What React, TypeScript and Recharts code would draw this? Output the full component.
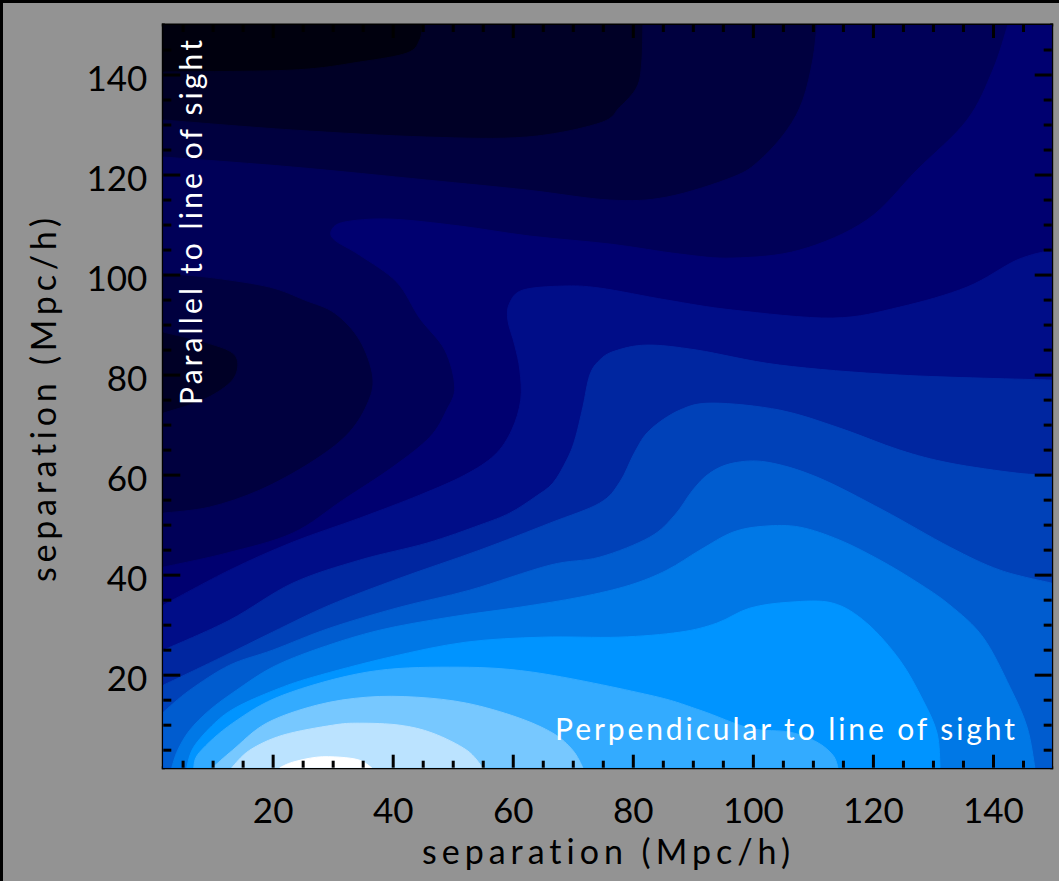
import React from 'react';
import { ScatterChart, Scatter, XAxis, YAxis } from 'recharts';

type P = [number, number];

const X_MIN = 1.7;
const X_MAX = 149.7;
const Y_MIN = 1.5;
const Y_MAX = 150;

const xTicks = [5, 10, 15, 20, 25, 30, 35, 40, 45, 50, 55, 60, 65, 70, 75, 80, 85, 90, 95, 100, 105, 110, 115, 120, 125, 130, 135, 140, 145];
const yTicks = [5, 10, 15, 20, 25, 30, 35, 40, 45, 50, 55, 60, 65, 70, 75, 80, 85, 90, 95, 100, 105, 110, 115, 120, 125, 130, 135, 140, 145];
const xLabels = [20, 40, 60, 80, 100, 120, 140];
const yLabels = [20, 40, 60, 80, 100, 120, 140];

const levelColors = [
  '#00000e', '#000026', '#00003f', '#000058', '#000070', '#000d88', '#0026a0',
  '#0041b8', '#005ccf', '#0078e6', '#0094ff', '#33abff', '#77c8ff', '#bbe3ff', '#ffffff',
];

// contour boundaries (x, y) in Mpc/h
const contour1: P[] = [[1.7, 140.6], [23.3, 141], [34.4, 142.6], [42.3, 144.4], [44.4, 147], [44.9, 150]];
const contour2Top: P[] = [[1.7, 131], [23.3, 129], [45.6, 127.6], [62.25, 127.6], [74.4, 130.4], [77.75, 133.6], [80.6, 137.6], [81.4, 142.4], [81.6, 150]];
const contour2Core: P[] = [[1.7, 88.6], [9.1, 86.4], [13.25, 84.4], [14.1, 81.6], [12.75, 78.4], [8.25, 75], [1.7, 72.4]];
const contour3Top: P[] = [[1.7, 123.6], [23.25, 121.6], [45.6, 119], [62.25, 117], [76.1, 115], [85.6, 115.6], [96.6, 119.6], [101.1, 123], [105.6, 129], [108.25, 135], [109.9, 143], [110.6, 150]];
const contour3Lobe: P[] = [[1.7, 100.4], [10.25, 99.4], [19.4, 97.6], [25.25, 95], [30.25, 92.4], [34.4, 87], [36.6, 79.6], [35.6, 74], [32.25, 68], [26.1, 62.4], [17.75, 57], [9.4, 53.6], [1.7, 52.4]];
const contour4: P[] = [[1.7, 41.6], [12.25, 44.4], [23.25, 48.4], [31.6, 55], [39.9, 61.6], [46.1, 67.6], [48.9, 73], [50.25, 77.6], [48.6, 85], [44.4, 91.4], [40.6, 98.6], [34.4, 104], [30.25, 107], [29.75, 109], [31.9, 110.6], [39.4, 111.2], [51.1, 109.8], [62.75, 107.8], [76.1, 106.2], [87.75, 104.2], [96.6, 103.4], [107.75, 105], [118.9, 111], [127.25, 121], [135.6, 131], [139.9, 141], [142.4, 150]];
const contour5: P[] = [[1.7, 34], [12.75, 41], [23.25, 46.6], [34.4, 51.4], [44.4, 56], [51.9, 60], [56.9, 64], [59.75, 69], [61.25, 75], [61.1, 81], [60.25, 86], [59.1, 91], [59.4, 94.4], [61.6, 97], [68.25, 97.8], [74.4, 97.4], [85.6, 95], [96.6, 93], [113.25, 91.4], [124.4, 93.6], [135.6, 97.6], [143.9, 103], [149.7, 105]];
const contour6: P[] = [[1.7, 25], [12.75, 31], [23.25, 38.4], [34.4, 43], [45.6, 46.4], [54.4, 50], [59.4, 52.4], [63.6, 55.6], [66.6, 58.4], [68.9, 63], [70.25, 67], [71.6, 73.6], [72.75, 80], [74.4, 83], [76.9, 84.8], [82.25, 86], [90.6, 85], [104.4, 82], [124.4, 80], [149.7, 79]];
const contour7: P[] = [[1.7, 18], [11.1, 23.4], [19.9, 28.6], [29.4, 34], [41.1, 39.4], [54.4, 45], [66.1, 50.4], [74.4, 54.4], [77.75, 58.6], [80.25, 64.6], [82.75, 69], [87.75, 73], [93.25, 74.4], [104.4, 73], [114.4, 69.4], [124.4, 65], [132.75, 62.4], [143.9, 60.4], [149.7, 60]];
const contour8: P[] = [[1.7, 12.6], [6.1, 17], [12.75, 22], [19.9, 25], [29.4, 29.4], [41.1, 33.6], [52.75, 37], [66.1, 42], [74.4, 43.6], [82.75, 47.6], [86.9, 52], [89.9, 57], [92.75, 60.4], [96.6, 62.4], [102.25, 62.6], [110.6, 59.6], [121.6, 53], [132.75, 45.6], [141.1, 41], [149.7, 38.4]];
const contour9: P[] = [[3.1, 1.5], [4.1, 5], [6.1, 9], [9.4, 13], [13.9, 17], [19.9, 21.6], [27.75, 25.4], [37.75, 29], [49.4, 31.6], [61.1, 33.6], [71.1, 35.6], [79.4, 38], [85.6, 41], [91.1, 45], [96.6, 48.6], [101.9, 49.8], [107.75, 49.6], [114.4, 47], [121.1, 43], [127.25, 38.6], [132.75, 34], [138.25, 27.6], [142.75, 17.6], [145.6, 9.6], [146.9, 1.5]];
const contour10: P[] = [[5.6, 1.5], [6.75, 5.6], [10.25, 10.4], [13.9, 13.6], [20.25, 17], [26.6, 19.6], [39.4, 23.6], [52.1, 26.6], [64.9, 27.6], [77.6, 27.6], [87.75, 28.6], [93.9, 30.4], [99.4, 33.4], [106.1, 34.6], [113.25, 34.4], [118.9, 30.4], [124.4, 23], [128.25, 15], [130.6, 8.4], [131.1, 1.5]];
const contour11: P[] = [[6.75, 1.5], [7.75, 4.6], [13.25, 10.4], [21.6, 16], [35.6, 20.6], [49.4, 21.6], [63.25, 20.6], [82.75, 16], [91.1, 13], [99.4, 9.4], [106.1, 8.6], [110.6, 6.6], [113.25, 4], [114.1, 1.5]];
const contour12: P[] = [[9.9, 1.5], [13.25, 5], [18.9, 10.4], [27.25, 14], [35.6, 15.6], [43.9, 15.6], [52.25, 14.4], [60.6, 11.6], [66.6, 8.4], [69.9, 5], [71.6, 1.5]];
const contour13: P[] = [[13.1, 1.5], [16.1, 5], [21.6, 8], [29.9, 10], [34.4, 10.4], [41.1, 10], [46.6, 8.4], [52.25, 5], [54.9, 1.5]];
const contour14: P[] = [[21.1, 1.5], [23.25, 2.6], [27.25, 3.6], [31.1, 3.6], [34.4, 3.0], [36.4, 1.5]];

const BL: P = [X_MIN, Y_MIN];
const BR: P = [X_MAX, Y_MIN];
const TR: P = [X_MAX, Y_MAX];
const TL: P = [X_MIN, Y_MAX];
const rev = (a: P[]) => [...a].reverse();

type Piece = { curve: boolean; pts: P[] };
const C = (pts: P[]): Piece => ({ curve: true, pts });
const L = (...pts: P[]): Piece => ({ curve: false, pts });

// filled region for each level (value >= level), painted from darkest to lightest
const regions: Piece[][] = [
  [L(BL, TL, TR, BR)],
  [C(contour1), L(TR, BR, BL)],
  [C(contour2Top), L(TR, BR, BL), C(rev(contour2Core))],
  [C(contour3Top), L(TR, BR, BL), C(rev(contour3Lobe))],
  [C(contour4), L(TR, BR, BL)],
  [C(contour5), L(BR, BL)],
  [C(contour6), L(BR, BL)],
  [C(contour7), L(BR, BL)],
  [C(contour8), L(BR, BL)],
  [C(contour9)],
  [C(contour10)],
  [C(contour11)],
  [C(contour12)],
  [C(contour13)],
  [C(contour14)],
];

type XY = { x: number; y: number };

// Builds a closed path from library-projected pixel points; curve pieces use Catmull-Rom smoothing.
function buildPath(points: XY[], pieces: Piece[]): string {
  let idx = 0;
  let d = '';
  const f = (n: number) => n.toFixed(2);
  pieces.forEach((piece, pi) => {
    const pts = points.slice(idx, idx + piece.pts.length);
    idx += piece.pts.length;
    if (!pts.length) return;
    d += pi === 0 ? `M${f(pts[0].x)},${f(pts[0].y)}` : `L${f(pts[0].x)},${f(pts[0].y)}`;
    if (piece.curve) {
      const n = pts.length;
      for (let j = 0; j < n - 1; j++) {
        const p0 = pts[Math.max(0, j - 1)];
        const p1 = pts[j];
        const p2 = pts[j + 1];
        const p3 = pts[Math.min(n - 1, j + 2)];
        const c1x = p1.x + (p2.x - p0.x) / 6;
        const c1y = p1.y + (p2.y - p0.y) / 6;
        const c2x = p2.x - (p3.x - p1.x) / 6;
        const c2y = p2.y - (p3.y - p1.y) / 6;
        d += `C${f(c1x)},${f(c1y)} ${f(c2x)},${f(c2y)} ${f(p2.x)},${f(p2.y)}`;
      }
    } else {
      for (let j = 1; j < pts.length; j++) d += `L${f(pts[j].x)},${f(pts[j].y)}`;
    }
  });
  return d + 'Z';
}

const FONT = 'Lato, "DejaVu Sans", sans-serif';
const textStyle = { fontVariantLigatures: 'none' as const };
const NoShape = () => <g />;

const BottomTick = (props: any) => {
  const { x, y, payload } = props;
  const v = payload.value;
  const major = xLabels.includes(v);
  return (
    <g>
      <line x1={x} x2={x} y1={y} y2={y - (major ? 13 : 7)} stroke="#000" strokeWidth={3} />
      {major && (
        <text x={x} y={y + 55} textAnchor="middle" fontSize={35} fontFamily={FONT} fill="#000">{v}</text>
      )}
    </g>
  );
};
const TopTick = (props: any) => {
  const { x, y, payload } = props;
  const major = xLabels.includes(payload.value);
  return <line x1={x} x2={x} y1={y} y2={y + (major ? 13 : 7)} stroke="#000" strokeWidth={3} />;
};
const LeftTick = (props: any) => {
  const { x, y, payload } = props;
  const v = payload.value;
  const major = yLabels.includes(v);
  return (
    <g>
      <line x1={x} x2={x + (major ? 17 : 8)} y1={y} y2={y} stroke="#000" strokeWidth={3} />
      {major && (
        <text x={x - 16} y={y + 15.5} textAnchor="end" fontSize={35} fontFamily={FONT} fill="#000">{v}</text>
      )}
    </g>
  );
};
const RightTick = (props: any) => {
  const { x, y, payload } = props;
  const major = yLabels.includes(payload.value);
  return <line x1={x} x2={x - (major ? 17 : 8)} y1={y} y2={y} stroke="#000" strokeWidth={3} />;
};

const axisLine = { stroke: '#000', strokeWidth: 3, strokeLinecap: 'square' as const };

export default function App() {
  return (
    <div
      style={{
        position: 'absolute',
        left: 0,
        top: 0,
        width: 1059,
        height: 881,
        background: '#939393',
        boxShadow: 'inset 3px 3px 0 #000',
      }}
    >
      <ScatterChart width={1059} height={881} margin={{ top: 15, right: 0, bottom: 13.3, left: 13.3 }}>
        {regions.map((pieces, i) => {
          const color = levelColors[i];
          const data = pieces.flatMap((p) => p.pts).map(([x, y]) => ({ x, y }));
          return (
            <Scatter
              key={i}
              xAxisId="b"
              yAxisId="l"
              data={data}
              fill={color}
              line={(lp: any) => (
                <path d={buildPath(lp.points as XY[], pieces)} fill={color} stroke={color} strokeWidth={1} />
              )}
              lineType="joint"
              shape={NoShape}
              isAnimationActive={false}
            />
          );
        })}
        <XAxis
          xAxisId="b"
          orientation="bottom"
          type="number"
          dataKey="x"
          domain={[X_MIN, X_MAX]}
          allowDataOverflow
          ticks={xTicks}
          interval={0}
          height={100}
          tickSize={0}
          tickMargin={0}
          tickLine={false}
          axisLine={axisLine}
          tick={BottomTick}
        />
        <XAxis
          xAxisId="t"
          orientation="top"
          type="number"
          dataKey="x"
          domain={[X_MIN, X_MAX]}
          allowDataOverflow
          ticks={xTicks}
          interval={0}
          height={10}
          tickSize={0}
          tickMargin={0}
          tickLine={false}
          axisLine={axisLine}
          tick={TopTick}
        />
        <YAxis
          yAxisId="l"
          orientation="left"
          type="number"
          dataKey="y"
          domain={[Y_MIN, Y_MAX]}
          allowDataOverflow
          ticks={yTicks}
          interval={0}
          width={150}
          tickSize={0}
          tickMargin={0}
          tickLine={false}
          axisLine={axisLine}
          tick={LeftTick}
        />
        <YAxis
          yAxisId="r"
          orientation="right"
          type="number"
          dataKey="y"
          domain={[Y_MIN, Y_MAX]}
          allowDataOverflow
          ticks={yTicks}
          interval={0}
          width={7.3}
          tickSize={0}
          tickMargin={0}
          tickLine={false}
          axisLine={axisLine}
          tick={RightTick}
        />
      </ScatterChart>
      <svg
        width={1059}
        height={881}
        style={{ position: 'absolute', left: 0, top: 0, pointerEvents: 'none' }}
      >
        <text x={606} y={864} textAnchor="middle" fontSize={34} fontFamily={FONT} fill="#000" textLength={368} lengthAdjust="spacing" style={textStyle}>
          separation (Mpc/h)
        </text>
        <text x={56} y={400} transform="rotate(-90, 56, 400)" textAnchor="middle" fontSize={34} fontFamily={FONT} fill="#000" textLength={364} lengthAdjust="spacing" style={textStyle}>
          separation (Mpc/h)
        </text>
        <text x={202} y={222.5} transform="rotate(-90, 202, 222.5)" textAnchor="middle" fontSize={30} fontFamily={FONT} fill="#fff" textLength={365} lengthAdjust="spacing" style={textStyle}>
          Parallel to line of sight
        </text>
        <text x={785} y={740} textAnchor="middle" fontSize={30} fontFamily={FONT} fill="#fff" textLength={460} lengthAdjust="spacing" style={textStyle}>
          Perpendicular to line of sight
        </text>
      </svg>
    </div>
  );
}
